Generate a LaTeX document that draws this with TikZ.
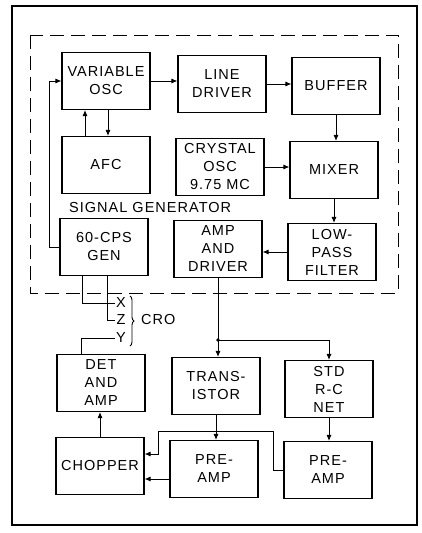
\documentclass[tikz,border=0pt]{standalone}
\usepackage{fontspec}
\setmainfont{Liberation Sans}[LetterSpace=7]
\usepackage{tikz}
\usetikzlibrary{arrows.meta,positioning,calc,decorations.pathreplacing}

\begin{document}
\begin{tikzpicture}[x=1pt, y=-1pt,
    box/.style={draw, line width=1.1pt, minimum width=88pt, minimum height=57pt,
                align=center, inner sep=1pt, font=\fontsize{14.5}{18}\selectfont},
    arr/.style={-{Latex[length=6pt,width=5pt]}, line width=0.9pt},
    wire/.style={line width=0.9pt},
    lbl/.style={inner sep=1pt, font=\fontsize{14.5}{17}\selectfont}
]
\useasboundingbox (0,0) rectangle (421,533);
\draw[line width=1.2pt] (12,6) rectangle (417,525);
\draw[line width=1pt, dash pattern=on 14pt off 7pt] (30,35) rectangle (398,293);

\node[box] (varosc) at (106,81) {VARIABLE\\OSC};
\node[box] (linedrv) at (222,84) {LINE\\DRIVER};
\node[box] (buffer) at (336,86) {BUFFER};
\node[box] (afc) at (106,165) {AFC};
\node[box] (crystal) at (220,167) {CRYSTAL\\OSC\\9.75 MC};
\node[box] (mixer) at (334,170) {MIXER};
\node[box] (gen60) at (104,247) {60-CPS\\GEN};
\node[box] (ampdrv) at (218,249) {AMP\\AND\\DRIVER};
\node[box] (lowpass) at (332,252) {LOW-\\PASS\\FILTER};
\node[lbl, anchor=west] (siggen) at (68,208) {SIGNAL GENERATOR};

\node[box] (det) at (101,383) {DET\\AND\\AMP};
\node[box] (trans) at (216,386) {TRANS-\\ISTOR};
\node[box] (stdrc) at (329,389) {STD\\R-C\\NET};
\node[box] (chopper) at (100,466) {CHOPPER};
\node[box] (pre1) at (214,469) {PRE-\\AMP};
\node[box] (pre2) at (328,470) {PRE-\\AMP};

\node[lbl] (xin) at (121,303) {X};
\node[lbl] (zin) at (121,320) {Z};
\node[lbl] (yin) at (121,338) {Y};
\node[lbl, anchor=west] (cro) at (140,320) {CRO};
\draw[wire, decorate, decoration={brace, amplitude=4pt}] (130,296) -- (130,346);

\draw[arr] (varosc.east) -- (varosc.east -| linedrv.west);
\draw[arr] (linedrv.east) -- (linedrv.east -| buffer.west);
\draw[arr] (buffer.south) -- (buffer.south |- mixer.north);
\draw[arr] (crystal.east) -- (crystal.east -| mixer.west);
\draw[arr] (mixer.south) -- (mixer.south |- lowpass.north);
\draw[arr] (lowpass.west) -- (lowpass.west -| ampdrv.east);
\draw[arr] ([xshift=-21pt]afc.north) -- ([xshift=-21pt]afc.north |- varosc.south);
\draw[arr] ([xshift=2pt]varosc.south) -- ([xshift=2pt]varosc.south |- afc.north);
\draw[arr] (gen60.west) -- ++(-10,0) |- (varosc.west);

\draw[wire] ([xshift=-22pt]gen60.south) |- (xin.west);
\draw[wire] ([xshift=3pt]gen60.south) |- (zin.west);
\draw[wire] ([xshift=-20pt]det.north) |- (yin.west);

\coordinate (jn) at (218,340);
\draw[wire] (ampdrv.south) -- (jn);
\fill (jn) circle (1.8pt);
\draw[arr] (jn) -- (jn |- trans.north);
\draw[arr] (jn) -| (stdrc.north);
\draw[arr] (trans.south) -- (trans.south |- pre1.north);
\draw[arr] (stdrc.south) -- (stdrc.south |- pre2.north);
\draw[arr] ([yshift=-10pt]pre1.west) -- ([yshift=-10pt]pre1.west -| chopper.east);
\coordinate (bend) at (158,431);
\draw[arr] (pre2.west) -- ++(-10,0) |- (bend) |- ([yshift=12pt]chopper.east);
\draw[arr] (chopper.north) -- (chopper.north |- det.south);
\end{tikzpicture}
\end{document}
